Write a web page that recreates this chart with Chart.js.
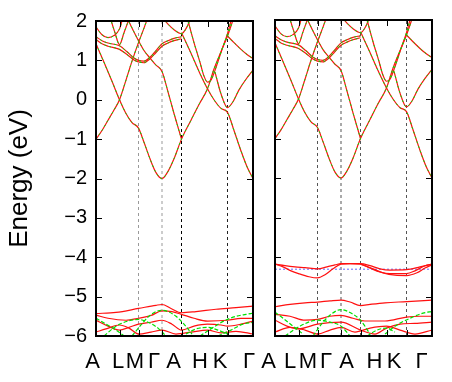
<!DOCTYPE html>
<html>
<head>
<meta charset="utf-8">
<script src="https://cdn.jsdelivr.net/npm/chart.js@4"></script>
<style>
  body { margin: 0; background: #fff; }
  #wrap { position: relative; width: 452px; height: 382px; }
  #wrap canvas { position: absolute; left: 0; top: 0; }
</style>
</head>
<body>
<div id="wrap">
  <canvas id="bandsLeft" width="452" height="382"></canvas>
  <canvas id="bandsRight" width="452" height="382"></canvas>
</div>
<script>
// k-path (distance along path), energies in eV
const energyTicks = [-6, -5, -4, -3, -2, -1, 0, 1, 2];
const kPoints = [0, 23.5, 42.5, 66, 85.5, 111.5, 131.5, 157];
const kLabels = ["A", "L", "M", "Γ", "A", "H", "K", "Γ"];
const labelPosLeft = [-3.5, 22, 39, 58, 77.5, 104, 124, 153];
const labelPosRight = [-6.5, 15, 33, 51, 71.5, 99.5, 119, 146.5];
const dividers = [42.5, 66, 85.5, 131.5];
const fermiRight = -4.31;

// upper (conduction) bands, both spins nearly identical, both panels
const bandS = [[0,-1],[6,-0.78],[12,-0.52],[18,-0.26],[23.5,0],[30,0.5],[36,0.98],[42.5,1.45],[48,1.82],[52,2.1]];
const bandV = [[0,1.42],[8,0.95],[16,0.47],[23.5,0],[30,-0.35],[36,-0.58],[42.5,-0.72],[48,-1.08],[54,-1.5],[60,-1.85],[66,-2],[72,-1.82],[78,-1.5],[85.5,-1.0],[95,-0.52],[103,-0.12],[111.5,0.28],[118,0.78],[125,1.22],[131.5,1.62],[138,2.1]];
const bandW = [[85.5,1.7],[95,1.18],[103,0.72],[111.5,0.28],[118,0.0],[125,-0.22],[131.5,-0.32],[138,-0.78],[145,-1.3],[151,-1.7],[157,-2.0]];
const bandUH = [[91,2.1],[98,1.45],[104,0.95],[108,0.6],[111.5,0.45],[115,0.5],[120,0.82],[126,1.28],[131.5,1.68],[136,2.1]];
const bandUK = [[119,0.7],[125,0.15],[131.5,-0.2],[137,-0.05],[143,0.25],[150,0.52],[157,0.75]];
const bandKG = [[131.5,1.62],[138,1.45],[145,1.28],[151,1.15],[157,1.05]];
const bandGA = [[33,1.98],[38,1.72],[42.5,1.5],[48,1.25],[54,1.06],[60,0.88],[66,0.72],[72,0.2],[78,-0.35],[85.5,-1.0]];
const bandArc1 = [[0,1.6],[6,1.5],[12,1.44],[23.5,1.37],[31,1.22],[38,1.06],[42.5,1.0],[48,0.98],[54,1.08],[60,1.25],[66,1.42],[72,1.5],[78,1.56],[85.5,1.6]];
const bandArc2 = [[0,1.53],[6,1.42],[12,1.36],[23.5,1.28],[31,1.15],[38,1.01],[42.5,0.96],[48,0.94],[54,1.04],[60,1.2],[66,1.36],[72,1.44],[78,1.5],[85.5,1.55]];
const bandTop = [[0,1.85],[6,1.65],[12,1.58],[18,1.63],[23.5,1.8],[27,2.1]];
const bandL = [[14,2.1],[19,1.7],[23.5,1.4],[28,1.7],[33,2.05]];
const bandTopA = [[66,2.1],[72,1.92],[78,1.78],[85.5,1.68],[91,1.85],[95,2.1]];
const upperBands = [bandS, bandV, bandW, bandUH, bandUK, bandKG, bandGA, bandArc1, bandArc2, bandTop, bandL, bandTopA];

// lower bands, left panel
const leftRed = [
  [[0,-5.43],[20,-5.4],[42.5,-5.3],[60,-5.22],[66,-5.2],[75,-5.3],[85.5,-5.41],[100,-5.38],[120,-5.32],[140,-5.28],[157,-5.24]],
  [[0,-5.47],[12,-5.55],[30,-5.6],[42.5,-5.55],[55,-5.48],[66,-5.36],[76,-5.38],[85.5,-5.45],[98,-5.55],[111.5,-5.62],[131.5,-5.6],[145,-5.55],[157,-5.55]],
  [[0,-5.6],[12,-5.75],[23.5,-5.85],[33,-5.78],[42.5,-5.7],[55,-5.65],[66,-5.6],[76,-5.7],[85.5,-5.85],[98,-5.75],[111.5,-5.7],[125,-5.72],[131.5,-5.75],[145,-5.7],[157,-5.62]],
  [[0,-5.9],[10,-5.82],[23.5,-5.72],[33,-5.8],[42.5,-5.95],[55,-5.9],[66,-5.85],[80,-5.95],[95,-5.9],[111.5,-5.85],[125,-5.92],[140,-5.88],[157,-5.95]]
];
const leftGreen = [
  [[36,-6.0],[44,-5.75],[52,-5.52],[60,-5.38],[66,-5.35],[72,-5.38],[80,-5.5],[88,-5.7],[96,-5.95]],
  [[0,-5.55],[10,-5.7],[20,-5.85],[28,-6.0]],
  [[8,-6.0],[20,-5.75],[32,-5.62],[42.5,-5.58],[52,-5.65],[62,-5.8],[70,-6.0]],
  [[104,-6.0],[116,-5.8],[128,-5.62],[140,-5.5],[150,-5.45],[157,-5.42]],
  [[90,-5.95],[100,-5.82],[111.5,-5.78],[122,-5.85],[131.5,-5.95]],
  [[122,-6.0],[135,-5.85],[147,-5.7],[157,-5.65]]
];

// lower bands, right panel
const rightRed = [
  [[0,-4.18],[8,-4.25],[16,-4.35],[23.5,-4.42],[34,-4.5],[42.5,-4.53],[50,-4.45],[58,-4.3],[66,-4.18],[75,-4.17],[85.5,-4.18],[95,-4.28],[105,-4.38],[115,-4.42],[125,-4.42],[131.5,-4.42],[140,-4.35],[150,-4.22],[157,-4.18]],
  [[0,-4.18],[10,-4.22],[20,-4.25],[30,-4.27],[42.5,-4.3],[52,-4.25],[60,-4.2],[66,-4.17],[85.5,-4.17],[95,-4.22],[105,-4.3],[115,-4.33],[131.5,-4.32],[145,-4.25],[157,-4.18]],
  [[85.5,-4.18],[98,-4.3],[108,-4.4],[120,-4.46],[131.5,-4.47],[142,-4.4],[150,-4.28],[157,-4.2]],
  [[0,-5.26],[15,-5.2],[30,-5.16],[42.5,-5.14],[55,-5.11],[66,-5.09],[75,-5.14],[85.5,-5.23],[95,-5.2],[110,-5.16],[131.5,-5.13],[145,-5.11],[157,-5.09]],
  [[0,-5.45],[15,-5.5],[30,-5.6],[42.5,-5.58],[55,-5.5],[66,-5.48],[78,-5.55],[90,-5.62],[110,-5.62],[131.5,-5.52],[145,-5.5],[157,-5.5]],
  [[0,-5.6],[12,-5.75],[23.5,-5.82],[42.5,-5.7],[66,-5.65],[85.5,-5.85],[100,-5.95],[111.5,-5.8],[125,-5.7],[140,-5.68],[157,-5.65]],
  [[0,-5.9],[15,-5.78],[30,-5.85],[42.5,-5.95],[55,-5.85],[66,-5.78],[80,-5.9],[95,-5.8],[111.5,-5.75],[125,-5.85],[140,-5.95],[157,-5.85]]
];
const rightGreen = [
  [[38,-6.0],[48,-5.65],[56,-5.45],[66,-5.33],[76,-5.42],[85.5,-5.6],[95,-5.95]],
  [[0,-5.4],[8,-5.55],[18,-5.75],[28,-5.95]],
  [[110,-5.95],[122,-5.72],[135,-5.55],[148,-5.42],[157,-5.38]],
  [[92,-6.0],[102,-5.85],[111.5,-5.8],[120,-5.9]],
  [[10,-6.0],[25,-5.75],[42.5,-5.6],[55,-5.65],[66,-5.75],[75,-6.0]]
];

const RED = "#ff1010";
const GREEN = "#00e000";
const toPts = (band) => band.map(([k, e]) => ({ x: k, y: e }));
const fmt = (v) => (v < 0 ? "\u2212" + Math.abs(v) : String(v));

const lineSet = (band, color, extra = {}) => ({
  data: toPts(band),
  borderColor: color,
  borderWidth: 1.2,
  cubicInterpolationMode: "monotone",
  ...extra,
});

// listed bottom-to-top; Chart.js paints the first dataset last, so reverse at the end
const buildDatasets = ({ red, green, dividerColors, fermi }) => {
  const sets = dividers.map((k, i) => ({
    data: [{ x: k, y: -6 }, { x: k, y: 2 }],
    borderColor: dividerColors[i],
    borderWidth: 1,
    borderDash: [3, 3],
  }));
  if (fermi !== undefined) {
    sets.push({
      data: [{ x: 0, y: fermi }, { x: 157, y: fermi }],
      borderColor: "#8a8aff",
      borderWidth: 1.3,
      borderDash: [2, 2],
    });
  }
  red.forEach((b) => sets.push(lineSet(b, RED)));
  green.forEach((b) => sets.push(lineSet(b, GREEN, { borderDash: [4, 2] })));
  upperBands.forEach((b) => sets.push(lineSet(b, RED)));
  upperBands.forEach((b) => sets.push(lineSet(b, GREEN, { borderWidth: 1, borderDash: [2, 3] })));
  return sets.reverse();
};

const framePlugin = {
  id: "frame",
  afterDatasetsDraw(chart) {
    const { ctx, chartArea: a, scales } = chart;
    const { x, y } = scales;
    ctx.save();
    ctx.strokeStyle = "#000";
    ctx.lineWidth = 1;
    ctx.beginPath();
    energyTicks.forEach((v) => {
      const py = Math.round(y.getPixelForValue(v)) + 0.5;
      ctx.moveTo(a.left, py); ctx.lineTo(a.left + 6, py);
      ctx.moveTo(a.right, py); ctx.lineTo(a.right - 6, py);
    });
    kPoints.slice(1, -1).forEach((k) => {
      const px = Math.round(x.getPixelForValue(k)) + 0.5;
      ctx.moveTo(px, a.top); ctx.lineTo(px, a.top + 6);
      ctx.moveTo(px, a.bottom); ctx.lineTo(px, a.bottom - 6);
    });
    ctx.stroke();
    ctx.lineWidth = 2;
    ctx.strokeRect(a.left, a.top, a.right - a.left, a.bottom - a.top);
    ctx.restore();
  },
};

const makeChart = ({ canvas, labelPos, axisWidth, padRight, showY, datasets }) =>
  new Chart(canvas, {
    type: "line",
    data: { datasets },
    plugins: [framePlugin],
    options: {
      responsive: false,
      animation: false,
      events: [],
      layout: { padding: { top: 20, right: padRight, left: 0, bottom: 0 } },
      plugins: { legend: { display: false }, tooltip: { enabled: false } },
      elements: { point: { radius: 0 } },
      scales: {
        x: {
          type: "linear",
          min: 0,
          max: 157,
          grid: { display: false, drawTicks: false },
          border: { display: false },
          afterFit: (s) => { s.height = 46; },
          afterBuildTicks: (s) => { s.ticks = labelPos.map((v) => ({ value: v })); },
          ticks: {
            autoSkip: false,
            maxRotation: 0,
            padding: 13,
            color: "#000",
            font: { family: "Liberation Sans", size: 22 },
            callback: (v, i) => kLabels[i],
          },
        },
        y: {
          min: -6,
          max: 2,
          grid: { display: false, drawTicks: false },
          border: { display: false },
          afterFit: (s) => { s.width = axisWidth; },
          afterBuildTicks: (s) => { s.ticks = energyTicks.map((v) => ({ value: v })); },
          ticks: {
            display: showY,
            padding: 9,
            color: "#000",
            font: { family: "Liberation Sans", size: 20 },
            callback: (v) => fmt(v),
          },
          title: {
            display: showY,
            text: "Energy (eV)",
            color: "#000",
            font: { family: "Liberation Sans", size: 26 },
            padding: { top: 4, bottom: 0 },
          },
        },
      },
    },
  });

makeChart({
  canvas: document.getElementById("bandsLeft"),
  labelPos: labelPosLeft,
  axisWidth: 96,
  padRight: 452 - 253,
  showY: true,
  datasets: buildDatasets({
    red: leftRed,
    green: leftGreen,
    dividerColors: ["#9a9a9a", "#9a9a9a", "#000", "#222"],
  }),
});

makeChart({
  canvas: document.getElementById("bandsRight"),
  labelPos: labelPosRight,
  axisWidth: 275,
  padRight: 452 - 432,
  showY: false,
  datasets: buildDatasets({
    red: rightRed,
    green: rightGreen,
    dividerColors: ["#555", "#555", "#555", "#555"],
    fermi: fermiRight,
  }),
});
</script>
</body>
</html>
